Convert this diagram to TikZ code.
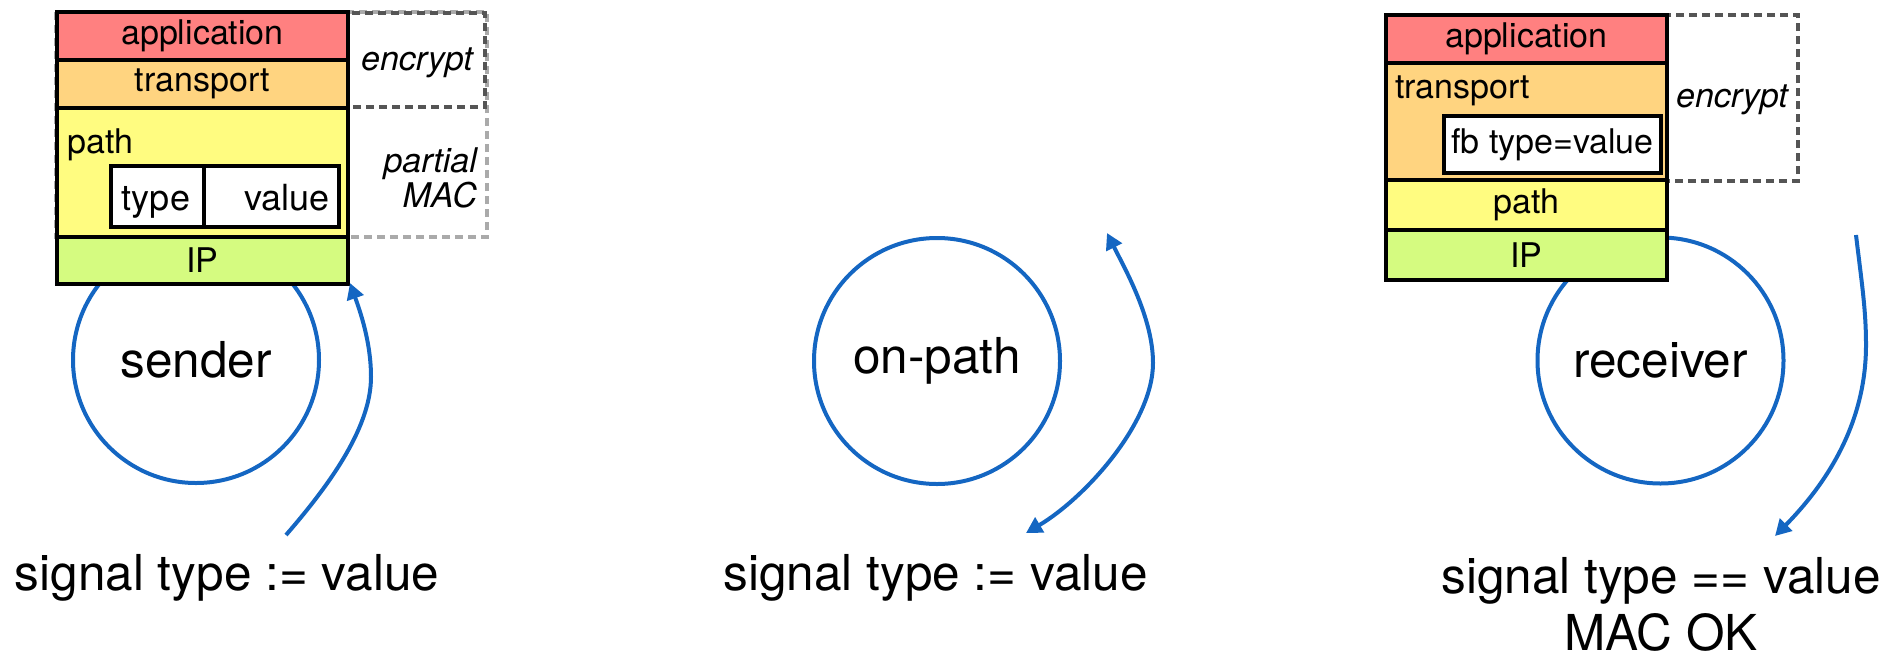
\documentclass[tikz,border=0pt]{standalone}
\usepackage{fontspec}
\setmainfont{TeX Gyre Heros}
\usetikzlibrary{arrows.meta}
\definecolor{appred}{HTML}{FF8080}
\definecolor{transorange}{HTML}{FFD480}
\definecolor{pathyellow}{HTML}{FFFC80}
\definecolor{ipgreen}{HTML}{D5FB80}
\definecolor{flowblue}{HTML}{1466C2}
\definecolor{darkdash}{HTML}{555555}
\definecolor{lightdash}{HTML}{AAAAAA}

\begin{document}
\begin{tikzpicture}[x=1pt,y=-1pt,
  >={Triangle[length=16pt,width=17pt]},
  layer/.style={draw=black, line width=4.5pt, inner sep=0pt, font=\fontsize{34}{40}\selectfont},
  cell/.style={draw=black, line width=4.5pt, fill=white, inner sep=0pt, font=\fontsize{34}{40}\selectfont},
  small/.style={font=\fontsize{34}{40}\selectfont, inner sep=0pt},
  cellfont/.style={font=\fontsize{36}{42}\selectfont, inner sep=0pt},
  note/.style={font=\fontsize{34}{40}\selectfont\itshape, inner sep=0pt},
  big/.style={font=\fontsize{49.5}{58}\selectfont, inner sep=0pt},
  role/.style={circle, draw=flowblue, line width=4pt, minimum size=246pt, inner sep=0pt, font=\fontsize{49.5}{58}\selectfont},
  flow/.style={draw=flowblue, line width=4pt},
  regiondark/.style={draw=darkdash, line width=4pt, dash pattern=on 8pt off 5pt},
  regionlight/.style={draw=lightdash, line width=4pt, dash pattern=on 8pt off 5pt},
]
\useasboundingbox (0,0) rectangle (1899,659);

% protected regions
\draw[regionlight] (56,12) rectangle (487,237);
\draw[regiondark] (57,13) rectangle (485,107);
\draw[regiondark] (1386,15) rectangle (1798,181);

% endpoints
\node[role] (sender) at (196,360) {sender};
\node[role] (onpath) at (937,361) {on-path};
\node[role] (receiver) at (1660.5,360.5) {receiver};

% sender stack
\node[layer, fill=appred, minimum width=291pt, minimum height=48pt] (sapp) at (202.5,36) {application};
\node[layer, fill=transorange, minimum width=291pt, minimum height=48pt] (strans) at (202.5,84) {transport};
\node[layer, fill=pathyellow, minimum width=291pt, minimum height=129pt] (spath) at (202.5,172.5) {};
\node[layer, fill=ipgreen, minimum width=291pt, minimum height=47pt] (sip) at (202.5,260.5) {IP};
\node[small, anchor=base west] (spathlbl) at (67,153) {path};
\node[cell, minimum width=93pt, minimum height=61pt] (stypecell) at (157.5,196.5) {};
\node[cell, minimum width=135pt, minimum height=61pt] (svalcell) at (271.5,196.5) {};
\node[cellfont, anchor=base] (stype) at (156,210) {type};
\node[cellfont, anchor=base east] (sval) at (330,210) {value};
\node[note, anchor=base east] (senc) at (473,70) {encrypt};
\node[note, anchor=base east] (spartial) at (477,172) {partial};
\node[note, anchor=base east] (smac) at (477,207) {MAC};

% receiver stack
\node[layer, fill=appred, minimum width=281pt, minimum height=48pt] (rapp) at (1526.5,39) {application};
\node[layer, fill=transorange, minimum width=281pt, minimum height=117pt] (rtrans) at (1526.5,121.5) {};
\node[layer, fill=pathyellow, minimum width=281pt, minimum height=50pt] (rpath) at (1526.5,205) {path};
\node[layer, fill=ipgreen, minimum width=281pt, minimum height=50pt] (rip) at (1526.5,255) {IP};
\node[small, anchor=base west] (rtranslbl) at (1395,98) {transport};
\node[cell, minimum width=217pt, minimum height=57pt] (rfb) at (1552.5,144.5) {fb type=value};
\node[note, anchor=base east] (renc) at (1788,107) {encrypt};

% signal labels
\node[big, anchor=base] (slabel) at (227,590) {signal type := value};
\node[big, anchor=base] (olabel) at (935.5,590) {signal type := value};
\node[big, anchor=base] (rlabel) at (1661,593) {signal type == value};
\node[big, anchor=base] (rmac) at (1661,650) {MAC OK};

% signal flows
\coordinate (s0) at (286,535);
\coordinate (s1) at (350,283);
\draw[flow,->] (s0) .. controls (325,490) and (371,430) .. (371,377)
  .. controls (371,342) and (360,311) .. (s1);

\coordinate (o0) at (1107,233);
\coordinate (o1) at (1026,533);
\draw[flow,<->] (o0) .. controls (1125,269) and (1153,318) .. (1153,363)
  .. controls (1153,423) and (1085,498) .. (o1);

\coordinate (r0) at (1856,235);
\coordinate (r1) at (1775,536);
\draw[flow,->] (r0) .. controls (1862,285) and (1866,310) .. (1866,345)
  .. controls (1866,420) and (1830,480) .. (r1);
\end{tikzpicture}
\end{document}
